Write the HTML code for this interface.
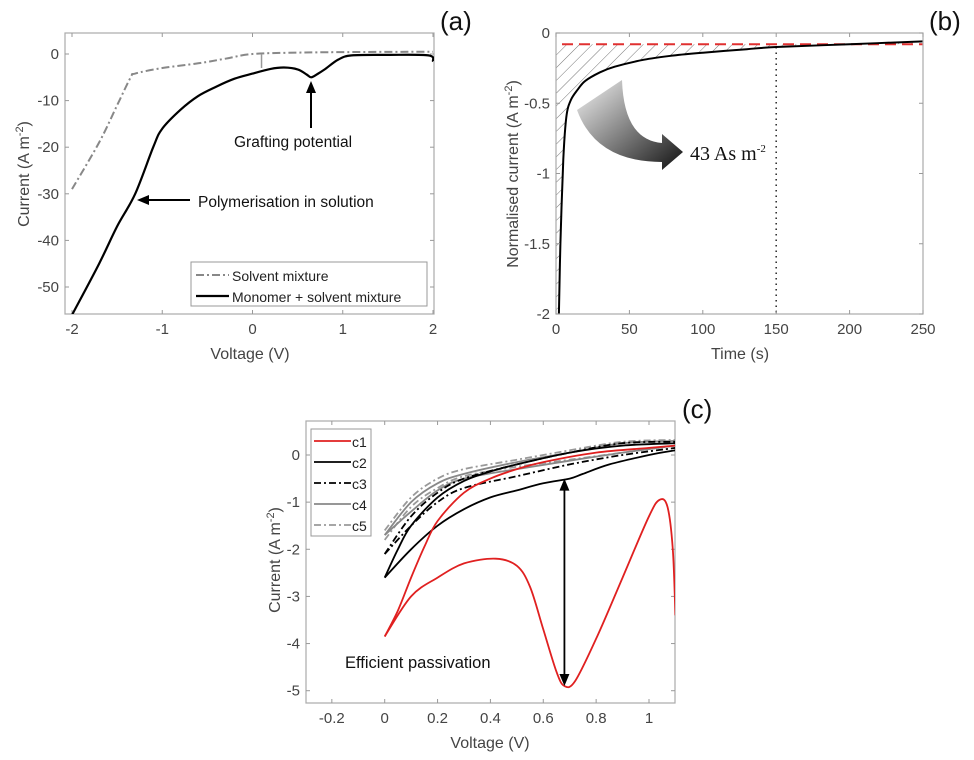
<!DOCTYPE html>
<html><head><meta charset="utf-8">
<style>
html,body{margin:0;padding:0;background:#fff;}
svg{display:block;font-family:"Liberation Sans",sans-serif;}
</style></head>
<body>
<svg id="fig" width="974" height="760" viewBox="0 0 974 760" xmlns="http://www.w3.org/2000/svg">
<defs>
<pattern id="hatch" patternUnits="userSpaceOnUse" width="9" height="9" patternTransform="rotate(45)">
<line x1="0" y1="0" x2="0" y2="9" stroke="#777" stroke-width="1"/>
</pattern>
<linearGradient id="arrGrad" x1="0" y1="0" x2="1" y2="1">
<stop offset="0" stop-color="#f4f4f4"/><stop offset="1" stop-color="#111"/>
</linearGradient>
<clipPath id="clipA"><rect x="65" y="33" width="369" height="281"/></clipPath>
<clipPath id="clipB"><rect x="556" y="33" width="367" height="281"/></clipPath>
<clipPath id="clipC"><rect x="306" y="421" width="369" height="282"/></clipPath>
</defs>
<g id="gA"></g>
<g id="gB"></g>
<g id="gC"></g>
</svg>
<script>
// ---- Panel (a) data ----
const aMonoV = [-2,-1.7,-1.5,-1.3,-1.1,-1,-0.8,-0.6,-0.4,-0.2,0,0.2,0.35,0.5,0.6,0.65,0.72,0.8,0.95,1.1,1.5,1.95,2];
const aMonoI = [-56,-45,-37,-30,-20,-16,-12,-9,-7,-5.3,-4.2,-3.2,-2.9,-3.3,-4.4,-5,-4.3,-3.3,-1.2,-0.3,-0.2,-0.3,-1.6];
const aSolvV = [-2,-1.7,-1.5,-1.35,-1.3,-1,-0.6,-0.3,0,0.5,1,2];
const aSolvI = [-29,-19,-11,-5,-4.2,-3,-2,-1,0,0.3,0.4,0.5];
const aXTicks = [-2,-1,0,1,2];
const aYTicks = [0,-10,-20,-30,-40,-50];
// ---- Panel (b) data ----
const bT = [2,3,5,7,10,15,20,30,40,60,80,100,130,150,200,250];
const bI = [-2,-1.5,-0.9,-0.6,-0.48,-0.4,-0.34,-0.28,-0.24,-0.19,-0.16,-0.14,-0.115,-0.1,-0.08,-0.06];
const bBaseline = -0.08;
const bMarkT = 150;
const bXTicks = [0,50,100,150,200,250];
const bYTicks = [0,-0.5,-1,-1.5,-2];
const bYLabels = ["0","-0.5","-1","-1.5","-2"];
// ---- Panel (c) data ----
const cV1u = [0,0.05,0.1,0.15,0.2,0.3,0.4,0.5,0.6,0.8,1.0,1.1];
const cI1u = [-3.85,-3.3,-2.6,-1.95,-1.4,-0.8,-0.5,-0.3,-0.15,0.05,0.15,0.2];
const cV1l = [0,0.1,0.2,0.3,0.42,0.5,0.55,0.6,0.65,0.68,0.72,0.8,0.9,1.0,1.04,1.07,1.09,1.1];
const cI1l = [-3.85,-3.0,-2.6,-2.3,-2.2,-2.35,-2.8,-3.7,-4.6,-4.9,-4.8,-3.9,-2.6,-1.3,-0.95,-1.1,-2,-3.4];
const cV2u = [0,0.05,0.1,0.2,0.3,0.4,0.5,0.7,0.9,1.1];
const cI2u = [-2.6,-2.0,-1.5,-0.9,-0.55,-0.35,-0.2,0.05,0.2,0.25];
const cV2l = [0,0.1,0.2,0.3,0.4,0.5,0.6,0.7,0.75,0.85,1.0,1.1];
const cI2l = [-2.6,-2.0,-1.5,-1.15,-0.9,-0.75,-0.6,-0.5,-0.4,-0.2,0.0,0.1];
const cV3u = [0,0.1,0.2,0.3,0.5,0.7,0.9,1.1];
const cI3u = [-2.1,-1.3,-0.8,-0.5,-0.2,0.05,0.25,0.28];
const cV3l = [0,0.1,0.2,0.3,0.5,0.7,0.9,1.1];
const cI3l = [-2.1,-1.5,-1.0,-0.7,-0.45,-0.2,0.0,0.15];
const cV4u = [0,0.1,0.2,0.3,0.5,0.7,0.9,1.1];
const cI4u = [-1.7,-1.0,-0.6,-0.4,-0.15,0.05,0.25,0.3];
const cV4l = [0,0.1,0.2,0.3,0.5,0.7,0.9,1.1];
const cI4l = [-1.7,-1.2,-0.75,-0.5,-0.3,-0.12,0.05,0.2];
const cV5u = [0,0.1,0.2,0.3,0.5,0.7,0.9,1.1];
const cI5u = [-1.6,-0.9,-0.5,-0.3,-0.1,0.1,0.28,0.32];
const cV5l = [0,0.1,0.2,0.3,0.5,0.7,0.9,1.1];
const cI5l = [-1.8,-1.1,-0.7,-0.45,-0.25,-0.1,0.05,0.2];
const cXTicks = [-0.2,0,0.2,0.4,0.6,0.8,1];
const cXLabels = ["-0.2","0","0.2","0.4","0.6","0.8","1"];
const cYTicks = [0,-1,-2,-3,-4,-5];
const cLegend = ["c1","c2","c3","c4","c5"];
const cArrowV = 0.68, cArrowTop = -0.5, cArrowBot = -4.9;

const NS = "http://www.w3.org/2000/svg";
function mk(parent, tag, attrs, text){
  const e = document.createElementNS(NS, tag);
  for (const k in attrs) e.setAttribute(k, attrs[k]);
  if (text !== undefined) e.textContent = text;
  parent.appendChild(e); return e;
}
function lin(d0,d1,r0,r1){ return v => r0 + (v-d0)/(d1-d0)*(r1-r0); }
function pathD(xs, ys, sx, sy){
  // smooth Catmull-Rom
  const p = xs.map((x,i)=>[sx(x), sy(ys[i])]);
  let d = "M"+p[0][0].toFixed(1)+","+p[0][1].toFixed(1);
  for (let i=0;i<p.length-1;i++){
    const p0=p[i-1]||p[i], p1=p[i], p2=p[i+1], p3=p[i+2]||p2;
    const c1=[p1[0]+(p2[0]-p0[0])/6, p1[1]+(p2[1]-p0[1])/6];
    const c2=[p2[0]-(p3[0]-p1[0])/6, p2[1]-(p3[1]-p1[1])/6];
    d += "C"+c1[0].toFixed(1)+","+c1[1].toFixed(1)+" "+c2[0].toFixed(1)+","+c2[1].toFixed(1)+" "+p2[0].toFixed(1)+","+p2[1].toFixed(1);
  }
  return d;
}
function frame(g, L, T, R, B, sx, sy, xt, xl, yt, yl){
  const f = mk(g,"rect",{x:L,y:T,width:R-L,height:B-T,fill:"none",stroke:"#aaa","stroke-width":1.2});
  
  
  xt.forEach((v,i)=>{
    const x = sx(v);
    mk(g,"line",{x1:x,y1:B,x2:x,y2:B-4,stroke:"#999"});
    mk(g,"line",{x1:x,y1:T,x2:x,y2:T+4,stroke:"#999"});
    const t = mk(g,"text",{x:x,y:B+20,"text-anchor":"middle","font-size":15,fill:"#444"}, xl[i]);
    
    
  });
  yt.forEach((v,i)=>{
    const y = sy(v);
    mk(g,"line",{x1:L,y1:y,x2:L+4,y2:y,stroke:"#999"});
    mk(g,"line",{x1:R,y1:y,x2:R-4,y2:y,stroke:"#999"});
    const t = mk(g,"text",{x:L-6,y:y+5,"text-anchor":"end","font-size":15,fill:"#444"}, yl[i]);
    
    
  });
}
function arrowHead(g, x, y, dir, col){
  // dir: angle in degrees the arrow points
  const a = dir*Math.PI/180, l=12, w=5;
  const bx = x - l*Math.cos(a), by = y - l*Math.sin(a);
  const px = -Math.sin(a)*w, py = Math.cos(a)*w;
  return mk(g,"polygon",{points:`${x},${y} ${bx+px},${by+py} ${bx-px},${by-py}`,fill:col});
}

// ================= Panel A =================
(function(){
  const g = document.getElementById("gA");
  const L=65,R=434,T=33,B=314;
  const sx = lin(-2,2,72,433), sy = lin(0,-50,54,287);
  frame(g,L,T,R,B,sx,sy,aXTicks,aXTicks.map(String),aYTicks,aYTicks.map(String));
  const cg = mk(g,"g",{"clip-path":"url(#clipA)"});
  const s1 = mk(cg,"path",{d:pathD(aSolvV,aSolvI,sx,sy),fill:"none",stroke:"#888","stroke-width":2,"stroke-dasharray":"8 3 2 3"});
  
  
  mk(cg,"line",{x1:sx(0.1),y1:sy(0),x2:sx(0.1),y2:sy(-3),stroke:"#999","stroke-width":1.5});
  const s2 = mk(cg,"path",{d:pathD(aMonoV,aMonoI,sx,sy),fill:"none",stroke:"#000","stroke-width":2.2});
  
  
  // annotations
  mk(g,"line",{x1:311,y1:128,x2:311,y2:92,stroke:"#000","stroke-width":2});
  arrowHead(g,311,81,-90,"#000");
  const t1 = mk(g,"text",{x:234,y:147,"font-size":15.5,fill:"#111"},"Grafting potential");
  
  
  mk(g,"line",{x1:190,y1:200,x2:148,y2:200,stroke:"#000","stroke-width":2});
  arrowHead(g,137,200,180,"#000");
  const t2 = mk(g,"text",{x:198,y:207,"font-size":15.5,fill:"#111"},"Polymerisation in solution");
  
  
  // legend
  const lg = mk(g,"g",{});
  
  
  mk(lg,"rect",{x:191,y:262,width:236,height:44,fill:"#fff",stroke:"#999"});
  mk(lg,"line",{x1:196,y1:275,x2:229,y2:275,stroke:"#888","stroke-width":2,"stroke-dasharray":"8 3 2 3"});
  mk(lg,"text",{x:232,y:281,"font-size":14,fill:"#222"},"Solvent mixture");
  mk(lg,"line",{x1:196,y1:296,x2:229,y2:296,stroke:"#000","stroke-width":2.2});
  mk(lg,"text",{x:232,y:302,"font-size":14,fill:"#222"},"Monomer + solvent mixture");
  const xl = mk(g,"text",{x:250,y:359,"text-anchor":"middle","font-size":16,fill:"#444"},"Voltage (V)");
  
  
  const yl = mk(g,"text",{transform:"translate(29,174) rotate(-90)","text-anchor":"middle","font-size":16,fill:"#444"});
  
  
  yl.innerHTML = 'Current (A m<tspan dy="-6" font-size="11">-2</tspan><tspan dy="6">)</tspan>';
  const pl = mk(g,"text",{x:440,y:30,"font-size":26,fill:"#111"},"(a)");
  
  
})();

// ================= Panel B =================
(function(){
  const g = document.getElementById("gB");
  const L=556,R=923,T=33,B=314;
  const sx = lin(0,250,556,923), sy = lin(0,-2,33,314);
  // hatched area between baseline and curve
  const cg = mk(g,"g",{"clip-path":"url(#clipB)"});
  let d = "M"+sx(0)+","+sy(bBaseline)+" L"+sx(0)+","+sy(-2);
  const hp = pathD(bT,bI,sx,sy).replace(/^M/,"L");
  d += hp + " L"+sx(bT[bT.length-1])+","+sy(bBaseline)+"Z";
  const ha = mk(cg,"path",{d:d,fill:"url(#hatch)",stroke:"none"});
  
  
  frame(g,L,T,R,B,sx,sy,bXTicks,bXTicks.map(String),bYTicks,bYLabels);
  mk(cg,"line",{x1:sx(bMarkT),y1:sy(-0.1),x2:sx(bMarkT),y2:B,stroke:"#333","stroke-width":1.6,"stroke-dasharray":"1.5 4"});
  const rl = mk(cg,"line",{x1:L+6,y1:sy(bBaseline),x2:R,y2:sy(bBaseline),stroke:"#e03030","stroke-width":2,"stroke-dasharray":"11 6"});
  
  
  const cl = mk(cg,"path",{d:pathD(bT,bI,sx,sy),fill:"none",stroke:"#000","stroke-width":2});
  
  
  const ar = mk(g,"path",{d:"M577,110 Q596,162 662,162 L662,170 L683,152 L662,134 L662,143 Q624,140 622,80 Z",fill:"url(#arrGrad)"});
  
  
  const ct = mk(g,"text",{x:690,y:160,"font-size":20,"font-family":"Liberation Serif, serif",fill:"#111"});
  
  
  ct.innerHTML = '43 As m<tspan dy="-8" font-size="11">-2</tspan>';
  const xl = mk(g,"text",{x:740,y:359,"text-anchor":"middle","font-size":16,fill:"#444"},"Time (s)");
  
  
  const yl = mk(g,"text",{transform:"translate(518,174) rotate(-90)","text-anchor":"middle","font-size":16,fill:"#444"});
  
  
  yl.innerHTML = 'Normalised current (A m<tspan dy="-6" font-size="11">-2</tspan><tspan dy="6">)</tspan>';
  const pl = mk(g,"text",{x:929,y:30,"font-size":26,fill:"#111"},"(b)");
  
  
})();

// ================= Panel C =================
(function(){
  const g = document.getElementById("gC");
  const L=306,R=675,T=421,B=703;
  const sx = lin(0,1,384.7,649), sy = lin(0,-5,455,690.7);
  frame(g,L,T,R,B,sx,sy,cXTicks,cXLabels,cYTicks,cYTicks.map(String));
  const cg = mk(g,"g",{"clip-path":"url(#clipC)"});
  const styles = [
    {s:"#e02020",da:"",w:1.8},
    {s:"#000",da:"",w:1.8},
    {s:"#000",da:"7 3 2 3",w:1.8},
    {s:"#888",da:"",w:1.8},
    {s:"#999",da:"7 3 2 3",w:1.8}
  ];
  const series = [
    [cV5u,cI5u,cV5l,cI5l,4],[cV4u,cI4u,cV4l,cI4l,3],[cV3u,cI3u,cV3l,cI3l,2],
    [cV2u,cI2u,cV2l,cI2l,1],[cV1u,cI1u,cV1l,cI1l,0]
  ];
  series.forEach(sr=>{
    const st = styles[sr[4]];
    const up = mk(cg,"path",{d:pathD(sr[0],sr[1],sx,sy),fill:"none",stroke:st.s,"stroke-width":st.w,"stroke-dasharray":st.da});
    
    
    const lo = mk(cg,"path",{d:pathD(sr[2],sr[3],sx,sy),fill:"none",stroke:st.s,"stroke-width":st.w,"stroke-dasharray":st.da});
    
    
  });
  // double arrow
  const ax = sx(cArrowV);
  mk(g,"line",{x1:ax,y1:sy(cArrowTop)+10,x2:ax,y2:sy(cArrowBot)-10,stroke:"#000","stroke-width":1.8});
  arrowHead(g,ax,sy(cArrowTop),-90,"#000");
  arrowHead(g,ax,sy(cArrowBot),90,"#000");
  const et = mk(g,"text",{x:345,y:668,"font-size":16.5,fill:"#111"},"Efficient passivation");
  
  
  // legend
  const lg = mk(g,"g",{});
  
  
  mk(lg,"rect",{x:311,y:429,width:60,height:107,fill:"#fff",stroke:"#999"});
  cLegend.forEach((n,i)=>{
    const y = 441 + i*21;
    const st = styles[i];
    mk(lg,"line",{x1:314,y1:y,x2:351,y2:y,stroke:st.s,"stroke-width":st.w,"stroke-dasharray":st.da});
    const lt = mk(lg,"text",{x:352,y:y+6,"font-size":14,fill:"#222"},n);
    
    
  });
  const xl = mk(g,"text",{x:490,y:748,"text-anchor":"middle","font-size":16,fill:"#444"},"Voltage (V)");
  
  
  const yl = mk(g,"text",{transform:"translate(280,560) rotate(-90)","text-anchor":"middle","font-size":16,fill:"#444"});
  
  
  yl.innerHTML = 'Current (A m<tspan dy="-6" font-size="11">-2</tspan><tspan dy="6">)</tspan>';
  const pl = mk(g,"text",{x:682,y:418,"font-size":26,fill:"#111"},"(c)");
  
  
})();
</script>
</body></html>
